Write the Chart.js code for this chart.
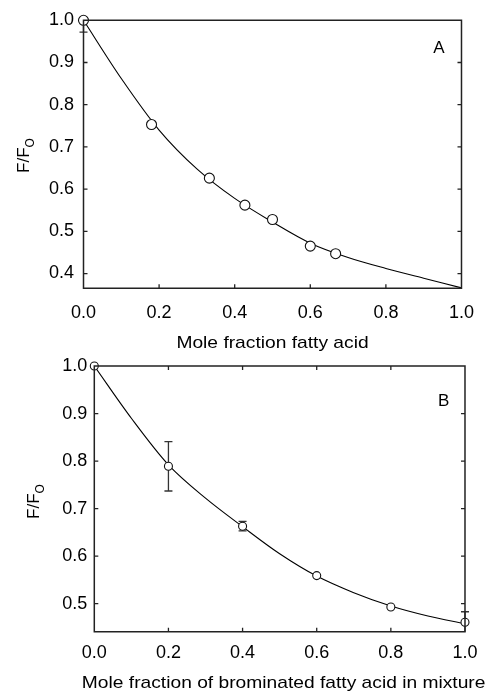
<!DOCTYPE html>
<html><head><meta charset="utf-8">
<script src="https://cdn.jsdelivr.net/npm/chart.js@4.4.0/dist/chart.umd.min.js"></script>
<style>
html,body{margin:0;padding:0;background:#fff;width:488px;height:691px;overflow:hidden;position:relative}
canvas{position:absolute;left:0}
#cA{top:0}
#cB{top:346px}
</style></head><body>
<canvas id="cA" width="488" height="356"></canvas>
<canvas id="cB" width="488" height="345"></canvas>
<script>
// ---------- data ----------
const xTicks = [0.0, 0.2, 0.4, 0.6, 0.8, 1.0];
const yTicksA = [0.4, 0.5, 0.6, 0.7, 0.8, 0.9, 1.0];
const yTicksB = [0.5, 0.6, 0.7, 0.8, 0.9, 1.0];

// Panel A measured points
const xA = [0.0, 0.18, 0.333, 0.427, 0.5, 0.6, 0.667];
const yA = [1.0, 0.753, 0.626, 0.562, 0.528, 0.465, 0.447];
const errLoA = [0.972, null, null, null, null, null, null];
const errHiA = [1.028, null, null, null, null, null, null];
// Panel A fitted curve
const curveX = [0.0, 0.1, 0.2, 0.3, 0.4, 0.5, 0.6, 0.7, 0.8, 0.9, 1.0];
const curveA = [1.0, 0.862, 0.740, 0.648, 0.578, 0.522, 0.472, 0.438, 0.412, 0.389, 0.366];

// Panel B measured points
const xB = [0.0, 0.2, 0.4, 0.6, 0.8, 1.0];
const yB = [1.0, 0.789, 0.663, 0.559, 0.493, 0.461];
const errLoB = [null, 0.737, 0.653, null, null, 0.439];
const errHiB = [null, 0.841, 0.673, null, null, 0.483];
// Panel B fitted curve
const curveB = [1.0, 0.890, 0.792, 0.722, 0.662, 0.605, 0.558, 0.523, 0.495, 0.474, 0.458];

const titleA_x = 'Mole fraction fatty acid';
const titleB_x = 'Mole fraction of brominated fatty acid in mixture';
const titleY = 'F/F';
const titleYsub = 'O';

// ---------- drawing helpers ----------
const FONT = '"Liberation Sans", Arial, Helvetica, sans-serif';
const AX = '#222';

function pts(xs, ys){ return xs.map((x,i)=>({x:x, y:ys[i]})); }

function decoPlugin(o){
  return {
    id: 'deco',
    beforeDatasetsDraw(chart){
      const ctx = chart.ctx, ca = chart.chartArea, xs = chart.scales.x, ys = chart.scales.y;
      ctx.save();
      ctx.beginPath(); ctx.rect(0, ca.top, chart.width, ca.bottom - ca.top); ctx.clip();
      ctx.strokeStyle = '#333'; ctx.lineWidth = 1.3;
      o.px.forEach((xv,i)=>{
        if (o.lo[i] == null) return;
        const px = xs.getPixelForValue(xv);
        const pl = ys.getPixelForValue(o.lo[i]);
        const ph = ys.getPixelForValue(o.hi[i]);
        ctx.beginPath();
        ctx.moveTo(px, pl); ctx.lineTo(px, ph);
        ctx.moveTo(px-4, pl); ctx.lineTo(px+4, pl);
        ctx.moveTo(px-4, ph); ctx.lineTo(px+4, ph);
        ctx.stroke();
      });
      ctx.restore();
    },
    afterDraw(chart){
      const ctx = chart.ctx, ca = chart.chartArea, xs = chart.scales.x, ys = chart.scales.y;
      ctx.save();
      ctx.strokeStyle = AX; ctx.lineWidth = 1.5;
      ctx.beginPath();
      ctx.rect(ca.left, ca.top, ca.right - ca.left, ca.bottom - ca.top);
      ctx.stroke();
      ctx.lineWidth = 1.3;
      ctx.beginPath();
      o.yTicks.forEach(v=>{
        const py = ys.getPixelForValue(v);
        if (py <= ca.top + 1 || py >= ca.bottom - 1) return;
        ctx.moveTo(ca.left, py); ctx.lineTo(ca.left + 4, py);
        ctx.moveTo(ca.right, py); ctx.lineTo(ca.right - 4, py);
      });
      xTicks.forEach(v=>{
        const px = xs.getPixelForValue(v);
        if (px <= ca.left + 1 || px >= ca.right - 1) return;
        ctx.moveTo(px, ca.bottom); ctx.lineTo(px, ca.bottom - 4);
        if (o.topTicks){ ctx.moveTo(px, ca.top); ctx.lineTo(px, ca.top + 4); }
      });
      ctx.stroke();

      ctx.fillStyle = '#000';
      // x title (slightly wide face like the original)
      ctx.save();
      ctx.font = '17px ' + FONT;
      ctx.textAlign = 'center'; ctx.textBaseline = 'middle';
      ctx.translate((ca.left + ca.right)/2 + o.xTitleShift, o.xTitleY);
      ctx.scale(1.13, 1);
      ctx.fillText(o.xTitle, 0, 0);
      ctx.restore();

      // y title with subscript
      ctx.save();
      ctx.translate(o.yTitleX, o.yTitleY);
      ctx.rotate(-Math.PI/2);
      ctx.textBaseline = 'middle'; ctx.textAlign = 'left';
      ctx.font = '17px ' + FONT;
      const w1 = ctx.measureText(titleY).width;
      ctx.font = '12px ' + FONT;
      const w2 = ctx.measureText(titleYsub).width;
      const start = -(w1 + w2)/2;
      ctx.font = '17px ' + FONT;
      ctx.fillText(titleY, start, 0);
      ctx.font = '12px ' + FONT;
      ctx.fillText(titleYsub, start + w1, 6.5);
      ctx.restore();

      // panel letter
      ctx.font = '17px ' + FONT;
      ctx.textAlign = 'center'; ctx.textBaseline = 'middle';
      ctx.fillText(o.letter, o.letterX, o.letterY);
      ctx.restore();
    }
  };
}

function makeChart(id, o){
  const H = document.getElementById(id).height;
  return new Chart(document.getElementById(id), {
    type: 'scatter',
    data: {
      datasets: [
        {
          data: pts(o.px, o.py), order: 0, showLine: false,
          pointStyle: 'circle', pointRadius: o.r, pointHoverRadius: o.r,
          pointBackgroundColor: '#fff', pointBorderColor: '#111', pointBorderWidth: 1.1,
          clip: false
        },
        {
          data: pts(curveX, o.curve), order: 1, showLine: true,
          borderColor: '#000', borderWidth: 1.1, pointRadius: 0,
          cubicInterpolationMode: 'monotone', fill: false
        }
      ]
    },
    options: {
      responsive: false, animation: false, devicePixelRatio: 1,
      events: [],
      layout: { padding: { left: 0, top: o.top, right: 488 - o.right, bottom: 0 } },
      plugins: { legend: { display: false }, tooltip: { enabled: false } },
      scales: {
        x: {
          type: 'linear', min: 0, max: 1,
          afterBuildTicks: s => { s.ticks = xTicks.map(v => ({ value: v })); },
          afterFit: s => { s.height = H - o.bottom; },
          grid: { display: false, drawTicks: false },
          border: { display: false },
          ticks: { callback: v => Number(v).toFixed(1), color: '#000', padding: o.xPad,
                   font: { size: 18, family: FONT }, maxRotation: 0, autoSkip: false }
        },
        y: {
          type: 'linear', min: o.ymin, max: 1.0,
          afterBuildTicks: s => { s.ticks = o.yTicks.map(v => ({ value: v })); },
          afterFit: s => { s.width = o.left; },
          grid: { display: false, drawTicks: false },
          border: { display: false },
          ticks: { callback: v => Number(v).toFixed(1), color: '#000', padding: o.yPad,
                   font: { size: 18, family: FONT } }
        }
      }
    },
    plugins: [decoPlugin(o)]
  });
}

makeChart('cA', {
  px: xA, py: yA, lo: errLoA, hi: errHiA, curve: curveA, r: 5,
  yTicks: yTicksA, ymin: 0.365, left: 83.5, right: 467, top: 20, bottom: 288.3,
  xPad: 14, yPad: 9.5, topTicks: false,
  xTitle: titleA_x, xTitleShift: 0, xTitleY: 343.5, yTitleX: 24, yTitleY: 155.5,
  letter: 'A', letterX: 439, letterY: 48.5
});

makeChart('cB', {
  px: xB, py: yB, lo: errLoB, hi: errHiB, curve: curveB, r: 4,
  yTicks: yTicksB, ymin: 0.441, left: 94.3, right: 473.3, top: 20, bottom: 285.7,
  xPad: 10.5, yPad: 7, topTicks: true,
  xTitle: titleB_x, xTitleShift: 4, xTitleY: 337.5, yTitleX: 34, yTitleY: 155.5,
  letter: 'B', letterX: 443.7, letterY: 55
});
</script>
</body></html>
